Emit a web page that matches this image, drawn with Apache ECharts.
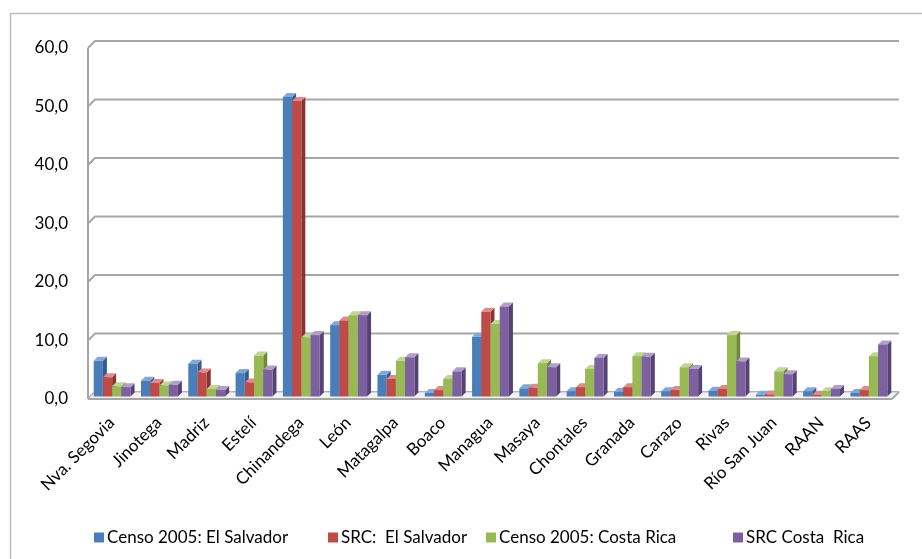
<!DOCTYPE html>
<html>
<head>
<meta charset="utf-8">
<script src="https://cdn.jsdelivr.net/npm/echarts@6/dist/echarts.min.js"></script>
<style>
  html, body { margin: 0; padding: 0; background: #fff; }
  #chart { width: 922px; height: 559px; }
</style>
</head>
<body>
<div id="chart"></div>
<script>
// Departamentos
const categories = ['Nva. Segovia', 'Jinotega', 'Madriz', 'Estelí', 'Chinandega', 'León',
  'Matagalpa', 'Boaco', 'Managua', 'Masaya', 'Chontales', 'Granada', 'Carazo', 'Rivas',
  'Río San Juan', 'RAAN', 'RAAS'];

// Porcentajes por serie
const censoElSalvador = [6.1, 2.7, 5.6, 4.0, 51.2, 12.2, 3.7, 0.6, 10.2, 1.4, 0.9, 0.8, 0.9, 1.0, 0.3, 0.9, 0.6];
const srcElSalvador   = [3.3, 2.3, 4.1, 2.4, 50.5, 13.0, 3.0, 1.1, 14.5, 1.5, 1.6, 1.6, 1.1, 1.3, 0.35, 0.3, 1.1];
const censoCostaRica  = [1.75, 1.9, 1.3, 7.0, 10.1, 13.9, 6.1, 3.0, 12.4, 5.7, 4.7, 6.9, 5.0, 10.5, 4.3, 0.9, 6.9];
const srcCostaRica    = [1.6, 2.0, 1.1, 4.6, 10.5, 13.9, 6.7, 4.3, 15.4, 5.0, 6.6, 6.8, 4.7, 6.0, 3.8, 1.3, 8.9];

const seriesNames = ['Censo 2005: El Salvador', 'SRC:  El Salvador', 'Censo 2005: Costa Rica', 'SRC Costa  Rica'];
const yTicks = [0, 10, 20, 30, 40, 50, 60];

const FONT = 'Lato, "Liberation Sans", sans-serif';
const WALL = 7;      // depth of the back wall
const DEPTH = 4;     // depth of each bar
const SHIFT = 2.5;   // bars sit slightly behind the front plane

const palette = [
  { front: '#4A7EBB', side: '#345C8C', top: '#86A6D6' },
  { front: '#BE4B48', side: '#8A3331', top: '#D88E8C' },
  { front: '#98B954', side: '#6E8A39', top: '#C1D597' },
  { front: '#7D60A0', side: '#574274', top: '#B0A0C6' }
];

function barRenderer(si) {
  return function (params, api) {
    const idx = api.value(0);
    const v = api.value(1);
    const base = api.coord([idx, 0]);
    const topPt = api.coord([idx, v]);
    const band = api.size([1, 0])[0];
    const bw = band * 0.195;
    const x = base[0] - 2 * bw - DEPTH / 2 + si * bw + SHIFT;
    const y0 = base[1] - SHIFT;
    const y1 = topPt[1] - SHIFT;
    const c = palette[si];
    return {
      type: 'group',
      children: [
        { type: 'polygon', shape: { points: [[x + bw, y1], [x + bw + DEPTH, y1 - DEPTH], [x + bw + DEPTH, y0 - DEPTH], [x + bw, y0]] },
          style: { fill: c.side } },
        { type: 'polygon', shape: { points: [[x, y1], [x + DEPTH, y1 - DEPTH], [x + bw + DEPTH, y1 - DEPTH], [x + bw, y1]] },
          style: { fill: c.top } },
        { type: 'rect', shape: { x: x, y: y1, width: bw, height: y0 - y1 },
          style: { fill: c.front } }
      ]
    };
  };
}

// back wall grid lines with the short diagonal on the side wall
function wallRenderer(params, api) {
  const t = api.value(1);
  const y = api.coord([0, t])[1];
  const cs = params.coordSys;
  const left = cs.x, right = cs.x + cs.width;
  return {
    type: 'polyline',
    shape: { points: [[left, y], [left + WALL, y - WALL], [right + WALL, y - WALL]] },
    style: { stroke: '#A6A6A6', lineWidth: 2, fill: null },
    silent: true
  };
}

function floorRenderer(params, api) {
  const cs = params.coordSys;
  const y = api.coord([0, 0])[1];
  const left = cs.x, right = cs.x + cs.width;
  return {
    type: 'group',
    silent: true,
    children: [
      { type: 'polygon', shape: { points: [[left, y], [left + WALL, y - WALL], [right + WALL, y - WALL], [right, y]] },
        style: { fill: '#F2F2F2', stroke: '#BFBFBF', lineWidth: 1 } },
      { type: 'line', shape: { x1: left, y1: y, x2: right, y2: y }, style: { stroke: '#A6A6A6', lineWidth: 2 } },
      { type: 'line', shape: { x1: right, y1: y, x2: right + WALL, y2: y - WALL }, style: { stroke: '#A6A6A6', lineWidth: 2 } },
      { type: 'line', shape: { x1: left, y1: y, x2: left, y2: api.coord([0, 60])[1] }, style: { stroke: '#A6A6A6', lineWidth: 2 } }
    ]
  };
}

const seriesData = [censoElSalvador, srcElSalvador, censoCostaRica, srcCostaRica];
const legendLefts = [89, 323, 481, 728];

const chart = echarts.init(document.getElementById('chart'), null, { renderer: 'canvas' });

const series = [
  { type: 'custom', name: 'walls', renderItem: wallRenderer, data: yTicks.map(t => [0, t]), silent: true, z: 1, clip: false },
  { type: 'custom', name: 'floor', renderItem: floorRenderer, data: [[0, 0]], silent: true, z: 2, clip: false }
].concat(seriesData.map((d, si) => ({
  type: 'custom',
  name: seriesNames[si],
  renderItem: barRenderer(si),
  itemStyle: { color: palette[si].front },
  data: d.map((v, i) => [i, v]),
  encode: { x: 0, y: 1 },
  z: 3 + si,
  clip: false
})));

chart.setOption({
  animation: false,
  backgroundColor: '#ffffff',
  graphic: [{
    type: 'rect',
    shape: { x: 10.5, y: 13.5, width: 1000, height: 1000 },
    style: { fill: null, stroke: '#BFBFBF', lineWidth: 1.5 },
    silent: true,
    z: 0
  }],
  grid: { left: 88, right: 30, top: 48, bottom: 160 },
  xAxis: {
    type: 'category',
    data: categories,
    axisLine: { show: false },
    axisTick: { show: false },
    axisLabel: { rotate: 45, interval: 0, margin: 21, color: '#000', fontFamily: FONT, fontSize: 17 }
  },
  yAxis: {
    type: 'value',
    min: 0,
    max: 60,
    interval: 10,
    splitLine: { show: false },
    axisLine: { show: false },
    axisTick: { show: false },
    axisLabel: {
      margin: 20, color: '#000', fontFamily: FONT, fontSize: 17,
      formatter: v => v.toFixed(1).replace('.', ',')
    }
  },
  legend: seriesNames.map((n, i) => ({
    data: [n],
    left: legendLefts[i],
    top: 524,
    itemWidth: 10,
    itemHeight: 10,
    itemGap: 4,
    icon: 'rect',
    selectedMode: false,
    textStyle: { fontFamily: FONT, fontSize: 17, color: '#000', padding: [0, 0, 0, -2] }
  })),
  series: series
});
</script>
</body>
</html>
